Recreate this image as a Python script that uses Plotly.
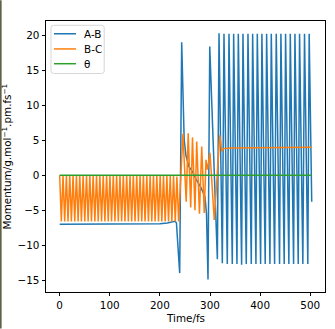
import plotly.graph_objects as go

# ---------------- data ----------------
ab_t = [0, 100, 150, 200, 215, 225, 230, 233, 239.5, 243.5, 248.5, 252, 258, 265, 271.5,
        281.5, 290, 293, 296, 299.5, 311.5, 314.7,
        318.0, 324.6, 327.9, 334.5, 337.9, 344.5, 347.2, 353.8, 356.5, 363.1, 365.8, 372.4,
        375.8, 382.4, 385.1, 391.7, 394.4, 401.0, 403.6, 410.2, 413.0, 419.6, 422.3, 428.9,
        432.2, 438.8, 441.5, 448.1, 450.8, 457.4, 460.2, 466.8, 469.5, 476.1, 478.7, 485.3,
        488.6, 495.2, 497.9, 503.0]
ab_v = [-7.0, -7.0, -7.0, -6.95, -6.85, -6.7, -6.6, -6.8, -14.0, 19.0, 5.0, 2.8, 1.2, 0.5, -0.5,
        -1.7, -3.1, -5.5, -14.9, 18.4, -5.5, -12.0,
        20.3, -12.6, 20.2, -12.7, 20.2, -12.7, 20.2, -12.7, 20.2, -12.8, 20.2, -12.7,
        20.2, -12.7, 20.2, -12.7, 20.2, -12.7, 20.2, -12.7, 20.2, -12.7, 20.2, -12.7,
        20.2, -12.7, 20.2, -12.7, 20.2, -12.7, 20.2, -12.7, 20.2, -12.7, 20.2, -12.7,
        20.2, -12.7, 20.2, -3.8]

bc_t = [0, 3.3, 6.7, 10.0, 13.4, 16.7, 20.1, 23.4, 26.7, 30.1, 33.4, 36.8, 40.1, 43.4,
        46.8, 50.1, 53.5, 56.8, 60.2, 63.5, 66.8, 70.2, 73.5, 76.9, 80.2, 83.6, 86.9, 90.2,
        93.6, 96.9, 100.3, 103.6, 107.0, 110.3, 113.6, 117.0, 120.3, 123.7, 127.0, 130.3,
        133.7, 137.0, 140.4, 143.7, 147.0, 150.4, 153.7, 157.1, 160.4, 163.8, 167.1, 170.4,
        173.8, 177.1, 180.5, 183.8, 187.2, 190.5, 193.8, 197.2, 200.5, 203.9, 207.2, 210.5,
        213.9, 217.2, 220.6, 223.9, 227.3, 230.6, 233.9, 237.3,
        246, 252.5, 256.5, 261.5, 265, 270, 273.5, 279, 283.5, 288.5, 292, 295, 300, 308.5,
        319.5, 323.5, 327, 340, 503]
bc_v = [0, -6.6, 0, -6.6, 0, -6.6, 0, -6.6, 0, -6.6, 0, -6.6, 0, -6.6,
        0, -6.6, 0, -6.6, 0, -6.6, 0, -6.6, 0, -6.6, 0, -6.6, 0, -6.6,
        0, -6.6, 0, -6.6, 0, -6.6, 0, -6.6, 0, -6.6, 0, -6.6,
        0, -6.6, 0, -6.6, 0, -6.6, 0, -6.6, 0, -6.6, 0, -6.6,
        0, -6.6, 0, -6.6, 0, -6.6, 0, -6.6, 0, -6.6, 0, -6.6,
        -0.1, -6.6, -0.1, -6.6, -0.1, -6.6, -0.2, -6.6,
        5.9, -3.8, 6.0, -4.6, 5.4, -5.0, 4.8, -5.5, 4.1, -5.4, 2.2, 0.8, 3.2, -6.4,
        5.7, 3.4, 3.8, 3.9, 4.0]

th_t = [0, 503]
th_v = [0, 0]

series_names = ["A-B", "B-C", "θ"]
colors = ["#1f77b4", "#ff7f0e", "#2ca02c"]

x_ticks = [0, 100, 200, 300, 400, 500]
y_ticks = [-15, -10, -5, 0, 5, 10, 15, 20]

# ---------------- layout geometry (pixels) ----------------
W, H = 335, 329
L, R, T, B = 46, 325.5, 20.7, 292.3
PW, PH = R - L, B - T


def px2x(px):
    return (px - L) / PW


def px2y(py):
    return (B - py) / PH


FONT = "DejaVu Sans"
FS = 10.4

fig = go.Figure()
for t, v, name, c in zip([ab_t, bc_t, th_t], [ab_v, bc_v, th_v], series_names, colors):
    fig.add_trace(go.Scatter(x=t, y=v, mode="lines", name=name,
                             line=dict(color=c, width=1.5), showlegend=False))

axis_common = dict(showgrid=False, zeroline=False, showline=True, linecolor="black",
                   linewidth=0.9, mirror=True, ticks="outside", ticklen=3.5,
                   tickwidth=0.9, tickcolor="black",
                   tickfont=dict(family=FONT, size=FS, color="black"))

fig.update_layout(
    width=W, height=H,
    margin=dict(l=L, r=W - R, t=T, b=H - B, pad=0),
    paper_bgcolor="white", plot_bgcolor="white",
    xaxis=dict(range=[-27.3, 529.5], tickvals=x_ticks, **axis_common),
    yaxis=dict(range=[-16.7, 22.04], tickvals=y_ticks,
               ticktext=[str(v).replace("-", "−") for v in y_ticks], **axis_common),
    showlegend=False,
)

annotations = []
# axis titles
annotations.append(dict(text="Time/fs", xref="paper", yref="paper", x=0.5, y=px2y(310),
                        xanchor="center", yanchor="top", showarrow=False,
                        font=dict(family=FONT, size=FS, color="black")))
annotations.append(dict(text="Momentum/g.mol<sup>−1</sup>.pm.fs<sup>−1</sup>",
                        xref="paper", yref="paper", x=px2x(6), y=px2y(156.5),
                        xanchor="center", yanchor="middle", textangle=-90, showarrow=False,
                        font=dict(family=FONT, size=FS, color="black")))

shapes = []
# legend frame (rounded)
lx0, lx1, ly0, ly1 = 51, 104.3, 25, 73.3
r = 2.5
path = (f"M {px2x(lx0 + r)} {px2y(ly0)} L {px2x(lx1 - r)} {px2y(ly0)} "
        f"Q {px2x(lx1)} {px2y(ly0)} {px2x(lx1)} {px2y(ly0 + r)} "
        f"L {px2x(lx1)} {px2y(ly1 - r)} Q {px2x(lx1)} {px2y(ly1)} {px2x(lx1 - r)} {px2y(ly1)} "
        f"L {px2x(lx0 + r)} {px2y(ly1)} Q {px2x(lx0)} {px2y(ly1)} {px2x(lx0)} {px2y(ly1 - r)} "
        f"L {px2x(lx0)} {px2y(ly0 + r)} Q {px2x(lx0)} {px2y(ly0)} {px2x(lx0 + r)} {px2y(ly0)} Z")
shapes.append(dict(type="path", path=path, xref="paper", yref="paper",
                   fillcolor="rgba(255,255,255,0.8)", line=dict(color="#d6d6d6", width=1)))
leg_y = [33.5, 48.7, 63.5]
for yy, name, c in zip(leg_y, series_names, colors):
    shapes.append(dict(type="line", xref="paper", yref="paper",
                       x0=px2x(54), x1=px2x(76), y0=px2y(yy), y1=px2y(yy),
                       line=dict(color=c, width=1.5)))
    annotations.append(dict(text=name, xref="paper", yref="paper", x=px2x(82.5), y=px2y(yy),
                            xanchor="left", yanchor="middle", showarrow=False,
                            font=dict(family=FONT, size=FS, color="black")))

# dark edge at the very left of the picture
shapes.append(dict(type="line", xref="paper", yref="paper",
                   x0=px2x(0.75), x1=px2x(0.75), y0=px2y(0), y1=px2y(H),
                   line=dict(color="#55533a", width=1.5)))

fig.update_layout(annotations=annotations, shapes=shapes)
fig.write_html("out.html")
